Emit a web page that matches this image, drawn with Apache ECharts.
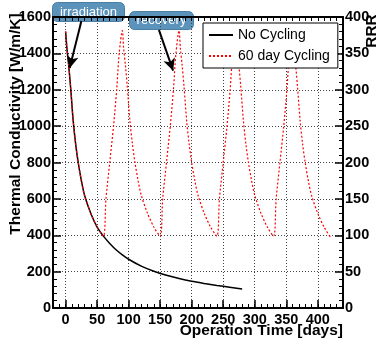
<!DOCTYPE html>
<html>
<head>
<meta charset="utf-8">
<script src="https://cdn.jsdelivr.net/npm/echarts@6/dist/echarts.min.js"></script>
<style>
  html, body { margin: 0; padding: 0; background: #fff; }
  #chart { width: 381px; height: 341px; }
</style>
</head>
<body>
<div id="chart"></div>
<script>
// No Cycling: conductivity decay after irradiation [day, W/m/K]
var noCycling = [
  [0, 1520], [2, 1430], [5, 1330], [8, 1210], [12, 1030], [16, 900], [20, 800],
  [25, 700], [30, 620], [40, 520], [50, 445], [60, 395], [70, 355], [80, 320],
  [90, 292], [100, 268], [120, 230], [140, 202], [160, 180], [180, 162],
  [200, 147], [220, 135], [240, 124], [260, 114], [280, 104]
];

// 60 day cycling: 60 days irradiation, 30 days recovery
var cycling60 = [
  [0, 1520], [2, 1430], [5, 1330], [8, 1210], [12, 1030], [16, 900], [20, 800],
  [25, 700], [30, 620], [40, 520], [50, 445], [60, 395],
  [64, 600], [70, 800], [76, 1000], [81, 1200], [85, 1400], [90, 1525],
  [92, 1430], [95, 1330], [98, 1210], [102, 1030], [106, 900], [110, 800],
  [115, 700], [120, 620], [130, 520], [140, 445], [150, 395],
  [154, 600], [160, 800], [166, 1000], [171, 1200], [175, 1400], [180, 1525],
  [182, 1430], [185, 1330], [188, 1210], [192, 1030], [196, 900], [200, 800],
  [205, 700], [210, 620], [220, 520], [230, 445], [240, 395],
  [244, 600], [250, 800], [256, 1000], [261, 1200], [265, 1400], [270, 1525],
  [272, 1430], [275, 1330], [278, 1210], [282, 1030], [286, 900], [290, 800],
  [295, 700], [300, 620], [310, 520], [320, 445], [330, 395],
  [334, 600], [340, 800], [346, 1000], [351, 1200], [355, 1400], [360, 1525],
  [362, 1430], [365, 1330], [368, 1210], [372, 1030], [376, 900], [380, 800],
  [385, 700], [390, 620], [400, 520], [410, 445], [420, 390]
];

var seriesNames = ['No Cycling', '60 day Cycling'];
var xTitle = 'Operation Time [days]';
var yTitle = 'Thermal Conductivity [W/m/K]';
var y2Title = 'RRR';

// annotation arrows, [from, to] in data coordinates
var irradiationArrow = [[25, 1578], [6.5, 1320]];
var recoveryArrow = [[148, 1529], [170.5, 1305]];

var font = 'Liberation Sans, Arial, Helvetica, sans-serif';
var tickLabel = { color: '#000', fontFamily: font, fontWeight: 'bold', fontSize: 14.5 };
var dotted = { color: '#444', type: [1, 2], width: 1 };
var plain = function (v) { return String(v); };

var chart = echarts.init(document.getElementById('chart'));

function arrowLine(pair) {
  return [{ coord: pair[0] }, { coord: pair[1] }];
}

chart.setOption({
  animation: false,
  backgroundColor: '#fff',
  grid: { left: 53, right: 38, top: 17, bottom: 33, containLabel: false },
  legend: {
    orient: 'vertical',
    left: 203, top: 23,
    padding: [5, 8, 5, 5],
    itemGap: 7,
    itemWidth: 24, itemHeight: 14,
    backgroundColor: '#fff',
    borderColor: '#000', borderWidth: 1, borderRadius: 0,
    itemStyle: { opacity: 0 },
    textStyle: { fontFamily: font, fontSize: 14, color: '#000' },
    data: seriesNames
  },
  xAxis: [
    {
      type: 'value', min: -20, max: 440, minInterval: 50, maxInterval: 50,
      axisLine: { onZero: false, lineStyle: { color: '#000', width: 2 } },
      axisTick: { inside: true, length: 8, lineStyle: { color: '#000', width: 1.5 } },
      axisLabel: Object.assign({ margin: 4, showMinLabel: false, showMaxLabel: false, formatter: plain }, tickLabel),
      splitLine: { show: true, lineStyle: dotted }
    },
    {
      // minor ticks every 10 days
      type: 'value', position: 'bottom', min: -20, max: 440, interval: 10,
      axisLine: { show: false },
      axisTick: { inside: true, length: 4, lineStyle: { color: '#000', width: 1 } },
      axisLabel: { show: false },
      splitLine: { show: false }
    },
    {
      type: 'value', position: 'top', min: -20, max: 440, interval: 10,
      axisLine: { show: true, onZero: false, lineStyle: { color: '#000', width: 2 } },
      axisTick: { inside: true, length: 4, lineStyle: { color: '#000', width: 1 } },
      axisLabel: { show: false },
      splitLine: { show: false }
    }
  ],
  yAxis: [
    {
      type: 'value', min: 0, max: 1600, interval: 200,
      axisLine: { show: true, onZero: false, lineStyle: { color: '#000', width: 2 } },
      axisTick: { inside: true, length: 8, lineStyle: { color: '#000', width: 1.5 } },
      minorTick: { show: true, splitNumber: 5, length: 4, lineStyle: { color: '#000', width: 1 } },
      axisLabel: Object.assign({ margin: 2, formatter: plain }, tickLabel),
      splitLine: { show: true, lineStyle: dotted }
    },
    {
      type: 'value', position: 'right', min: 0, max: 400, interval: 50,
      axisLine: { show: true, onZero: false, lineStyle: { color: '#000', width: 2 } },
      axisTick: { inside: true, length: 8, lineStyle: { color: '#000', width: 1.5 } },
      minorTick: { show: true, splitNumber: 5, length: 4, lineStyle: { color: '#000', width: 1 } },
      axisLabel: Object.assign({ margin: 2, formatter: plain }, tickLabel),
      splitLine: { show: false }
    }
  ],
  series: [
    {
      name: seriesNames[0], type: 'line', data: noCycling,
      showSymbol: false, symbol: 'none', smooth: 0.3,
      lineStyle: { color: '#000', width: 1.5 },
      itemStyle: { color: '#000' },
      markLine: {
        silent: true, symbol: ['none', 'arrow'], symbolSize: [9, 12],
        label: { show: false },
        lineStyle: { color: '#000', width: 2, type: 'solid' },
        data: [arrowLine(irradiationArrow), arrowLine(recoveryArrow)]
      },
      z: 2
    },
    {
      name: seriesNames[1], type: 'line', data: cycling60,
      showSymbol: false, symbol: 'none', smooth: 0.3,
      lineStyle: { color: '#ff0000', width: 1.2, type: [2, 2] },
      itemStyle: { color: '#ff0000' },
      z: 3
    }
  ],
  graphic: [
    {
      type: 'text', x: 16, y: 124, rotation: Math.PI / 2,
      style: { text: yTitle, font: 'bold 15.5px ' + font, fill: '#000', align: 'center', verticalAlign: 'middle' }
    },
    {
      type: 'text', x: 343, y: 331,
      style: { text: xTitle, font: 'bold 15.5px ' + font, fill: '#000', align: 'right', verticalAlign: 'middle' }
    },
    {
      type: 'text', x: 372, y: 31, rotation: Math.PI / 2,
      style: { text: y2Title, font: 'bold 15.5px ' + font, fill: '#000', align: 'center', verticalAlign: 'middle' }
    },
    {
      type: 'group', left: 52, top: 2, z: 100,
      children: [
        { type: 'rect', shape: { x: 0, y: 0, width: 72, height: 19, r: 5 },
          style: { fill: '#5b93bb', stroke: '#4a7fa5', lineWidth: 1 } },
        { type: 'text', x: 36, y: 9.5,
          style: { text: 'irradiation', font: '13px ' + font, fill: '#fff', align: 'center', verticalAlign: 'middle' } }
      ]
    },
    {
      type: 'group', left: 129, top: 11, z: 100,
      children: [
        { type: 'rect', shape: { x: 0, y: 0, width: 64, height: 18, r: 5 },
          style: { fill: '#5b93bb', stroke: '#4a7fa5', lineWidth: 1 } },
        { type: 'text', x: 32, y: 9,
          style: { text: 'recovery', font: '13px ' + font, fill: '#fff', align: 'center', verticalAlign: 'middle' } }
      ]
    }
  ]
});
</script>
</body>
</html>
